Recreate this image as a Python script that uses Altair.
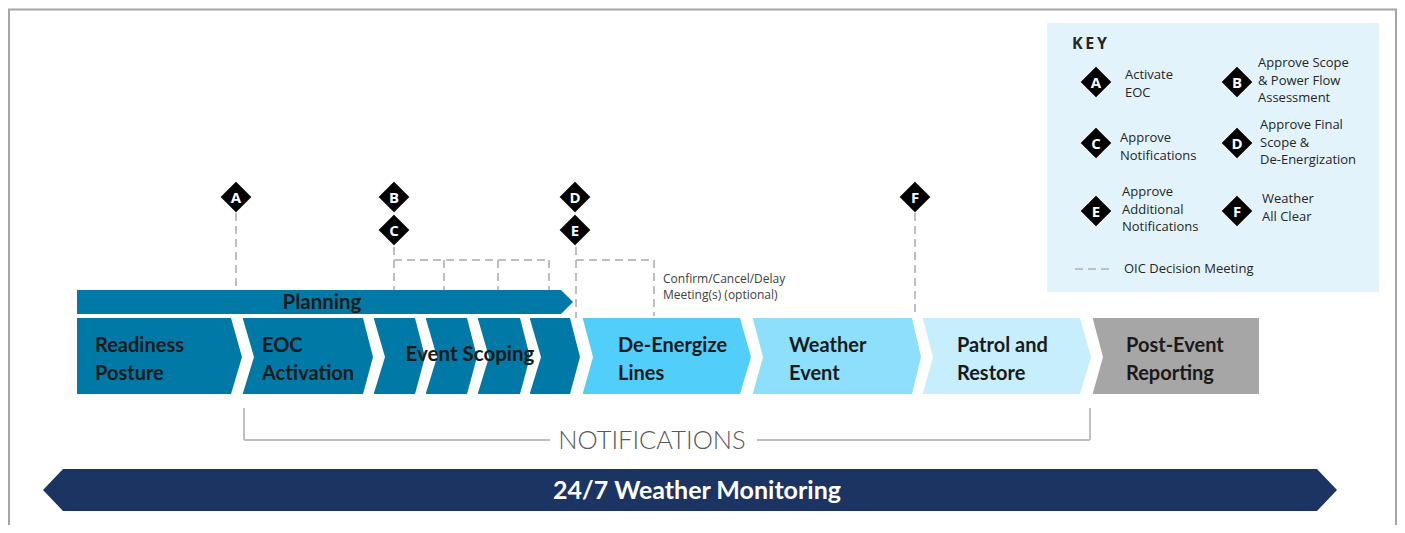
import altair as alt
import pandas as pd

# ---------------- data ----------------
# main process row (chevrons)
chevron_stage = ["Readiness Posture", "EOC Activation", "Event Scoping", "Event Scoping",
                 "Event Scoping", "Event Scoping", "De-Energize Lines", "Weather Event",
                 "Patrol and Restore", "Post-Event Reporting"]
chevron_start = [77, 243, 374, 426, 478, 530, 583, 753, 923, 1093]
chevron_end = [231, 363, 415, 467, 520, 570, 740, 912, 1080, 1259]
chevron_notch = [0, 11, 11, 11, 11, 11, 10, 10, 10, 10]
chevron_tip = [11, 10, 10, 10, 10, 10, 11, 9, 11, 0]
chevron_fill = ["#0079A6", "#0079A6", "#0079A6", "#0079A6", "#0079A6", "#0079A6",
                "#52CEFA", "#8EDFFB", "#C6EEFD", "#A6A6A6"]

stage_label_lines = [["Readiness", "Posture"], ["EOC", "Activation"], ["De-Energize", "Lines"],
                     ["Weather", "Event"], ["Patrol and", "Restore"], ["Post-Event", "Reporting"]]
stage_label_x = [95, 262, 618, 789, 957, 1126]

# milestones (diamonds)
milestone_letter = ["A", "B", "C", "D", "E", "F"]
milestone_x = [236, 394, 394, 575, 575, 915]
milestone_y = [197, 197, 230, 197, 230, 197]

# key
key_letter = ["A", "B", "C", "D", "E", "F"]
key_x = [1096, 1237, 1096, 1237, 1096, 1237]
key_y = [82, 82, 143, 143, 211, 211]
key_desc = [["Activate", "EOC"], ["Approve Scope", "& Power Flow", "Assessment"],
            ["Approve", "Notifications"], ["Approve Final", "Scope &", "De-Energization"],
            ["Approve", "Additional", "Notifications"], ["Weather", "All Clear"]]
key_text_x = [1125, 1258, 1120, 1260, 1122, 1262]
key_text_y0 = [75, 63, 138, 125, 192, 199]

# OIC decision meeting dashed connectors (x1, y1, x2, y2)
dash_x1 = [236, 394, 394, 444, 498, 549, 576, 576, 654, 915, 1075]
dash_y1 = [213, 247, 260, 260, 260, 260, 247, 260, 260, 213, 269]
dash_x2 = [236, 394, 549, 444, 498, 549, 576, 654, 654, 915, 1113]
dash_y2 = [289, 290, 260, 290, 290, 290, 318, 260, 316, 316, 269]

# ---------------- layout constants ----------------
ROW_TOP, ROW_MID, ROW_BOT = 318, 357, 394
W, H = 1389, 517
xs = alt.Scale(domain=[8, 8 + W], nice=False, zero=False)
ys = alt.Scale(domain=[8, 8 + H], nice=False, zero=False, reverse=True)


def X(f, **kw):
    return alt.X(f, scale=xs, axis=None, **kw)


def Y(f, **kw):
    return alt.Y(f, scale=ys, axis=None, **kw)


# ---------------- build tables (vertical ranged areas) ----------------
rows = []
notch_rows = []
for i in range(len(chevron_stage)):
    x0, x1, n, t = chevron_start[i], chevron_end[i], chevron_notch[i], chevron_tip[i]
    pts = [(x0, ROW_TOP, ROW_BOT), (x1, ROW_TOP, ROW_BOT)]
    if t:
        pts.append((x1 + t, ROW_MID, ROW_MID))
    for (xx, ya, yb) in pts:
        rows.append(dict(id=i, x=xx, ya=ya, yb=yb, fill=chevron_fill[i]))
    if n:
        for (xx, ya, yb) in [(x0 - 0.5, ROW_TOP - 0.5, ROW_BOT + 0.5), (x0 + n, ROW_MID, ROW_MID)]:
            notch_rows.append(dict(id=i, x=xx, ya=ya, yb=yb))
# planning arrow
for (xx, ya, yb) in [(77, 290, 314), (561, 290, 314), (573, 302, 302)]:
    rows.append(dict(id=20, x=xx, ya=ya, yb=yb, fill="#0079A6"))
# weather monitoring band
for (xx, ya, yb) in [(43, 490, 490), (63, 469, 511), (1317, 469, 511), (1337, 490, 490)]:
    rows.append(dict(id=21, x=xx, ya=ya, yb=yb, fill="#1B3461"))
shape_df = pd.DataFrame(rows)
notch_df = pd.DataFrame(notch_rows)

shapes = alt.Chart(shape_df).mark_area(opacity=1).encode(
    x=X("x:Q"), y=Y("ya:Q", stack=None), y2="yb:Q",
    color=alt.Color("fill:N", scale=None), detail="id:N")
notches = alt.Chart(notch_df).mark_area(opacity=1, color="white").encode(
    x=X("x:Q"), y=Y("ya:Q", stack=None), y2="yb:Q", detail="id:N")

# key background & frame
box_df = pd.DataFrame(dict(x=[1047], x2=[1379], y=[23], y2=[292]))
keybox = alt.Chart(box_df).mark_rect(color="#E2F3FB").encode(
    x=X("x:Q"), x2="x2:Q", y=Y("y:Q"), y2="y2:Q")

frame_df = pd.DataFrame(dict(x=[8, 9, 1396], x2=[1397, 9, 1396], y=[9.5, 9, 9], y2=[9.5, 525, 525]))
frame = alt.Chart(frame_df).mark_rule(color="#A6A6A6", strokeWidth=2).encode(
    x=X("x:Q"), x2="x2:Q", y=Y("y:Q"), y2="y2:Q")

# dashed connectors
dash_df = pd.DataFrame(dict(x=dash_x1, y=dash_y1, x2=dash_x2, y2=dash_y2))
dashes = alt.Chart(dash_df).mark_rule(color="#BFBFBF", strokeWidth=2, strokeDash=[8, 5]).encode(
    x=X("x:Q"), x2="x2:Q", y=Y("y:Q"), y2="y2:Q")

# notifications bracket
br_df = pd.DataFrame(dict(x=[244, 244, 757, 1090], x2=[244, 550, 1090, 1090],
                          y=[408, 440, 440, 408], y2=[440, 440, 440, 440]))
bracket = alt.Chart(br_df).mark_rule(color="#BFBFBF", strokeWidth=2).encode(
    x=X("x:Q"), x2="x2:Q", y=Y("y:Q"), y2="y2:Q")

# diamonds
dia_df = pd.DataFrame(dict(x=milestone_x + key_x, y=milestone_y + key_y,
                           t=milestone_letter + key_letter))
diamonds = alt.Chart(dia_df).mark_point(shape="diamond", filled=True, size=1000, fill="black",
                                        stroke="white", strokeWidth=1, opacity=1).encode(
    x=X("x:Q"), y=Y("y:Q"))
dia_text = alt.Chart(dia_df).mark_text(font="Open Sans", fontWeight="bold", fontSize=15,
                                       color="white", baseline="middle", dy=1).encode(
    x=X("x:Q"), y=Y("y:Q"), text="t:N")

# stage labels
sl = []
for lines, xx in zip(stage_label_lines, stage_label_x):
    for j, t in enumerate(lines):
        sl.append(dict(x=xx, y=346 + 27.5 * j, t=t))
sl_df = pd.DataFrame(sl)
stage_text = alt.Chart(sl_df).mark_text(font="Lato", fontWeight="bold", fontSize=20,
                                        color="#1A1A1A", align="left", baseline="middle").encode(
    x=X("x:Q"), y=Y("y:Q"), text="t:N")

center_df = pd.DataFrame(dict(x=[470, 322], y=[355, 303], t=["Event Scoping", "Planning"]))
center_text = alt.Chart(center_df).mark_text(font="Lato", fontWeight="bold", fontSize=20.5,
                                             color="#1A1A1A", baseline="middle").encode(
    x=X("x:Q"), y=Y("y:Q"), text="t:N")

wm_df = pd.DataFrame(dict(x=[697], y=[491], t=["24/7 Weather Monitoring"]))
wm_text = alt.Chart(wm_df).mark_text(font="Lato", fontWeight="bold", fontSize=25,
                                     color="white", baseline="middle").encode(
    x=X("x:Q"), y=Y("y:Q"), text="t:N")

nt_df = pd.DataFrame(dict(x=[652], y=[441], t=["NOTIFICATIONS"]))
nt_text = alt.Chart(nt_df).mark_text(font="Lato", fontWeight=300, fontSize=25.5,
                                     color="#595959", baseline="middle").encode(
    x=X("x:Q"), y=Y("y:Q"), text="t:N")

cf_df = pd.DataFrame(dict(x=[663, 663], y=[279, 295],
                          t=["Confirm/Cancel/Delay", "Meeting(s) (optional)"]))
cf_text = alt.Chart(cf_df).mark_text(font="Open Sans", fontSize=12, color="#404040",
                                     align="left", baseline="middle").encode(
    x=X("x:Q"), y=Y("y:Q"), text="t:N")

# key labels
kl = []
for lines, xx, y0 in zip(key_desc, key_text_x, key_text_y0):
    for j, t in enumerate(lines):
        kl.append(dict(x=xx, y=y0 + 17.5 * j, t=t))
kl.append(dict(x=1124, y=269, t="OIC Decision Meeting"))
kl_df = pd.DataFrame(kl)
key_text = alt.Chart(kl_df).mark_text(font="Open Sans", fontSize=13, color="#262626",
                                      align="left", baseline="middle").encode(
    x=X("x:Q"), y=Y("y:Q"), text="t:N")

kt_df = pd.DataFrame(dict(x=[1072], y=[44], t=["K\u2009E\u2009Y"]))
key_title = alt.Chart(kt_df).mark_text(font="Open Sans", fontWeight="bold", fontSize=16,
                                       color="#262626", align="left", baseline="middle").encode(
    x=X("x:Q"), y=Y("y:Q"), text="t:N")

chart = alt.layer(
    frame, keybox, dashes, bracket, shapes, notches, diamonds, dia_text, stage_text,
    center_text, wm_text, nt_text, cf_text, key_text, key_title
).properties(
    width=W, height=H, autosize=alt.AutoSizeParams(type="none"), padding=0,
    background="white"
).configure_view(stroke=None)

chart.save("out.html", embed_options={"renderer": "svg", "actions": False})
